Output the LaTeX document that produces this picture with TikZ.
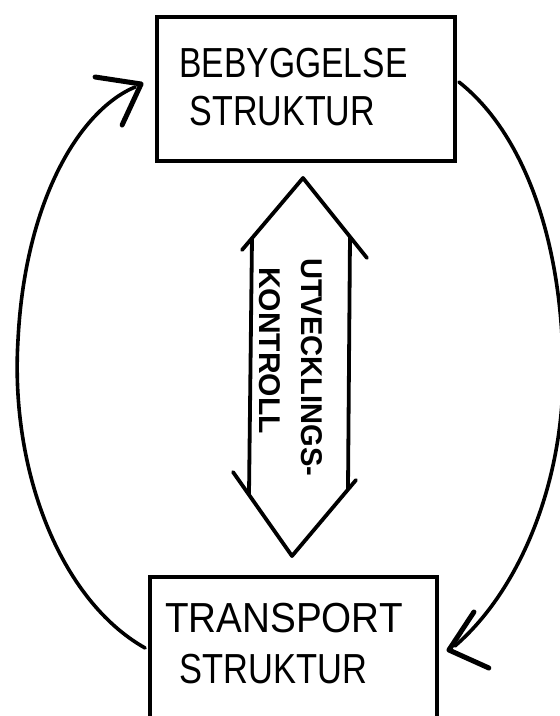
\documentclass[tikz,border=0pt]{standalone}
\usepackage{fontspec}
\setmainfont{Liberation Sans}
\usetikzlibrary{calc}
\begin{document}
\begin{tikzpicture}[x=1pt,y=-1pt,
  box/.style={draw, line width=3.8pt, inner sep=0pt},
  link/.style={line width=3.6pt, line cap=round},
  barb/.style={line width=5pt, line cap=round, line join=round},
  big/.style={font=\fontsize{42}{47}\selectfont, inner sep=0pt, anchor=base},
  vert/.style={font=\fontsize{30}{36}\selectfont\bfseries, inner sep=0pt, rotate=-90, anchor=base west},
  darrow/.style={line width=3.8pt, line cap=round, line join=round}]
\useasboundingbox (0,0) rectangle (560,716);
\clip (0,0) rectangle (560,716);
% boxes
\node[box, minimum width=298pt, minimum height=144pt] (top) at (306,89) {};
\node[box, minimum width=287pt, minimum height=200pt] (bot) at (293.5,677) {};
% box texts
\node[big] (t1) at (293.5,77) {\scalebox{0.80}[1]{BEBYGGELSE}};
\node[big] (t2) at (282.5,125) {\scalebox{0.81}[1]{STRUKTUR}};
\node[big] (b1) at (284,632) {\scalebox{0.92}[1]{TRANSPORT}};
\node[big] (b2) at (273.5,683) {\scalebox{0.82}[1]{STRUKTUR}};
% double arrow
\draw[darrow] (242,250) -- (303,178) -- (367,258);
\draw[darrow] (252,238) -- (249,494);
\draw[darrow] (350,237) -- (348,489);
\draw[darrow] (233,472) -- (292,556) -- (356,480);
\node[vert] (u) at (301,258) {\scalebox{0.97}[1]{UTVECKLINGS-}};
\node[vert] (k) at (259,267) {KONTROLL};
% tips
\coordinate (ltip) at ($(top.west)+(-14,-5)$);
\coordinate (rtip) at ($(bot.east)+(10,-27)$);
% left connector: transport -> bebyggelse
\draw[link] ($(bot.west)+(-3,-29)$) .. controls (60,600) and (10,470) .. (18,340)
  .. controls (25,200) and (80,110) .. ($(ltip)+(-6,3)$);
\draw[barb] ($(ltip)+(-46,-7)$) -- (ltip) -- ($(ltip)+(-19,41)$);
% right connector: bebyggelse -> transport
\draw[link] ($(top.east)+(2,-7)$) .. controls (520,130) and (560,230) .. (563,360)
  .. controls (566,480) and (520,590) .. ($(rtip)+(6,-4)$);
\draw[barb] ($(rtip)+(25,-38)$) -- (rtip) -- ($(rtip)+(40,18)$);
\end{tikzpicture}
\end{document}
